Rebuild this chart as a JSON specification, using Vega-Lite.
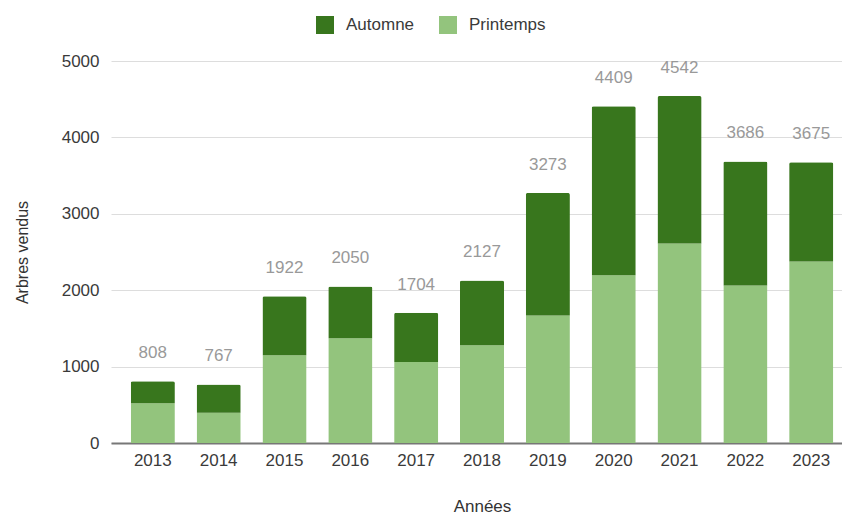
{
  "$schema": "https://vega.github.io/schema/vega-lite/v6.json",
  "autosize": {"type": "none"},
  "padding": {"left": 111, "top": 61, "right": 0, "bottom": 71},
  "width": 742,
  "height": 382,
  "background": "white",
  "config": {
    "font": "Liberation Sans",
    "view": {"stroke": null},
    "axis": {"labelColor": "#3a3a3a", "titleColor": "#333333", "titleFontWeight": "normal", "titleFontSize": 17, "labelFontSize": 17}
  },
  "data": {
    "values": [
      {"annee": "2013", "saison": "Printemps", "arbres": 520},
      {"annee": "2013", "saison": "Automne", "arbres": 288},
      {"annee": "2014", "saison": "Printemps", "arbres": 395},
      {"annee": "2014", "saison": "Automne", "arbres": 372},
      {"annee": "2015", "saison": "Printemps", "arbres": 1150},
      {"annee": "2015", "saison": "Automne", "arbres": 772},
      {"annee": "2016", "saison": "Printemps", "arbres": 1370},
      {"annee": "2016", "saison": "Automne", "arbres": 680},
      {"annee": "2017", "saison": "Printemps", "arbres": 1060},
      {"annee": "2017", "saison": "Automne", "arbres": 644},
      {"annee": "2018", "saison": "Printemps", "arbres": 1280},
      {"annee": "2018", "saison": "Automne", "arbres": 847},
      {"annee": "2019", "saison": "Printemps", "arbres": 1670},
      {"annee": "2019", "saison": "Automne", "arbres": 1603},
      {"annee": "2020", "saison": "Printemps", "arbres": 2195},
      {"annee": "2020", "saison": "Automne", "arbres": 2214},
      {"annee": "2021", "saison": "Printemps", "arbres": 2610},
      {"annee": "2021", "saison": "Automne", "arbres": 1932},
      {"annee": "2022", "saison": "Printemps", "arbres": 2060},
      {"annee": "2022", "saison": "Automne", "arbres": 1626},
      {"annee": "2023", "saison": "Printemps", "arbres": 2375},
      {"annee": "2023", "saison": "Automne", "arbres": 1300}
    ]
  },
  "encoding": {
    "x": {
      "field": "annee", "type": "ordinal", "title": "Années",
      "scale": {"paddingInner": 0.33, "paddingOuter": 0.3},
      "axis": {"labelAngle": 0, "ticks": false, "domainColor": "#777777", "domainWidth": 2, "labelPadding": 9, "titlePadding": 30}
    }
  },
  "layer": [
    {
      "mark": {"type": "bar", "cornerRadiusTopLeft": 2, "cornerRadiusTopRight": 2},
      "encoding": {
        "y": {
          "field": "arbres", "type": "quantitative", "aggregate": "sum", "stack": "zero", "title": "Arbres vendus",
          "scale": {"domain": [0, 5000]},
          "axis": {"values": [0, 1000, 2000, 3000, 4000, 5000], "format": "d", "domain": false, "ticks": false, "gridColor": "#dddddd", "labelPadding": 12, "titlePadding": 31, "titleFontSize": 16}
        },
        "color": {
          "field": "saison", "type": "nominal",
          "scale": {"domain": ["Automne", "Printemps"], "range": ["#38761d", "#93c47d"]},
          "legend": {"title": null, "orient": "none", "direction": "horizontal", "legendX": 205, "legendY": -45, "symbolType": "square", "symbolSize": 324, "symbolOpacity": 1, "symbolStrokeWidth": 0, "labelFontSize": 17, "labelColor": "#3a3a3a", "columnPadding": 24, "labelOffset": 12}
        },
        "order": {"field": "saison", "sort": "descending"}
      }
    },
    {
      "transform": [{"aggregate": [{"op": "sum", "field": "arbres", "as": "total"}], "groupby": ["annee"]}],
      "mark": {"type": "text", "baseline": "bottom", "dy": -19, "fontSize": 17, "color": "#999999"},
      "encoding": {
        "y": {"field": "total", "type": "quantitative"},
        "text": {"field": "total", "type": "quantitative"}
      }
    }
  ]
}
